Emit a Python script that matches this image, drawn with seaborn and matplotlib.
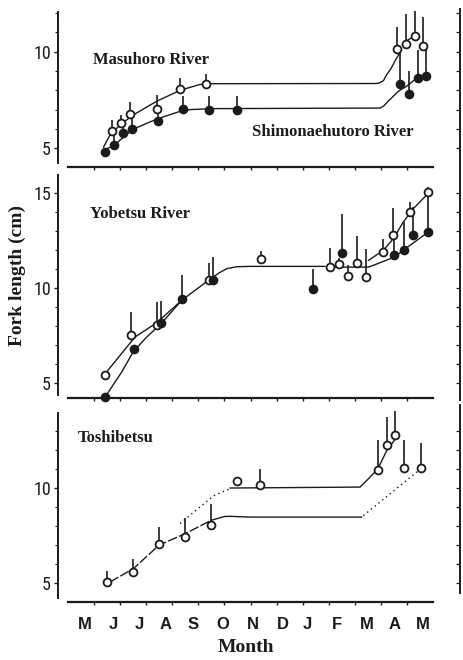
import numpy as np
import pandas as pd
import matplotlib
matplotlib.use("Agg")
import matplotlib.pyplot as plt
from matplotlib import font_manager
from matplotlib.ticker import FixedLocator
import seaborn as sns

# ---------------------------------------------------------------- data
# x positions are in months along the shared season axis (tick 0..12)
month_ticks = list(range(13))
month_labels = ["M", "J", "J", "A", "S", "O", "N", "D", "J", "F", "M", "A", "M"]
month_label_pos = [-0.37, 0.74, 1.74, 2.75, 3.81, 4.93, 6.11, 7.26, 8.16, 9.30, 10.46, 11.54, 12.60]

# Masuhoro River (open circles): mean fork length and upper deviation
masuhoro_x = [0.68, 1.02, 1.36, 2.40, 3.30, 4.30, 11.63, 11.96, 12.31, 12.63]
masuhoro_fl = [5.88, 6.30, 6.77, 7.03, 8.07, 8.35, 10.16, 10.42, 10.81, 10.29]
masuhoro_sd = [0.59, 0.43, 0.61, 0.75, 0.58, 0.47, 1.09, 1.52, 1.30, 1.48]

# Shimonaehutoro River (filled circles)
shimo_x = [0.42, 0.77, 1.12, 1.45, 2.46, 3.40, 4.41, 5.47, 11.73, 12.09, 12.41, 12.72]
shimo_fl = [4.82, 5.17, 5.78, 6.00, 6.42, 7.05, 6.99, 6.99, 8.30, 7.81, 8.65, 8.73]
shimo_sd = [0.15, 0.52, 0.43, 0.73, 0.61, 0.67, 0.70, 0.73, 1.80, 1.18, 1.45, 1.47]

# growth curves, Masuhoro / Shimonaehutoro
masuhoro_curve_x = [0.36, 0.61, 1.00, 1.51, 2.40, 3.30, 4.06, 4.45, 10.80, 10.95, 11.10, 11.22, 11.40, 11.54, 11.73]
masuhoro_curve_fl = [5.05, 5.69, 6.21, 6.73, 7.43, 8.00, 8.30, 8.34, 8.35, 8.38, 8.50, 8.80, 9.15, 9.51, 9.95]
masuhoro_link_x = [11.86, 12.31]
masuhoro_link_fl = [10.47, 10.81]
shimo_curve_x = [0.36, 0.74, 1.12, 1.51, 2.40, 3.30, 3.68, 4.50, 10.97, 11.12, 11.28, 11.67, 11.99, 12.31, 12.76]
shimo_curve_fl = [4.90, 5.12, 5.57, 5.99, 6.51, 6.91, 7.00, 7.05, 7.08, 7.20, 7.43, 7.95, 8.21, 8.56, 8.82]

# Yobetsu River, two groups (open / filled)
yob_open_x = [0.40, 1.41, 2.40, 4.39, 6.39, 9.05, 9.40, 9.73, 10.07, 10.42, 11.09, 11.48, 12.12, 12.80]
yob_open_fl = [5.40, 7.51, 8.07, 10.44, 11.51, 11.10, 11.28, 10.61, 11.30, 10.58, 11.89, 12.80, 13.98, 15.08]
yob_open_sd = [0.15, 1.23, 1.19, 0.88, 0.42, 1.00, 0.30, 0.62, 1.42, 1.49, 0.67, 1.40, 0.54, 0.23]
yob_fill_x = [0.40, 1.55, 2.57, 3.37, 4.58, 8.38, 9.50, 11.52, 11.89, 12.22, 12.82]
yob_fill_fl = [4.26, 6.80, 8.16, 9.44, 10.44, 9.96, 11.84, 11.72, 12.00, 12.79, 12.97]
yob_fill_sd = [0.20, 0.00, 1.14, 1.22, 1.19, 1.06, 2.07, 0.90, 1.47, 1.47, 1.82]

yob_open_curve_x = [0.48, 1.57, 2.40, 3.36, 4.38, 4.80, 5.09, 5.47, 6.00, 8.86]
yob_open_curve_fl = [5.58, 7.42, 8.17, 9.35, 10.40, 10.80, 11.02, 11.12, 11.14, 11.14]
yob_fill_curve_x = [0.51, 1.06, 1.51, 2.02, 2.57, 3.36]
yob_fill_curve_fl = [4.44, 5.58, 6.66, 7.42, 8.12, 9.35]
yob_mid_x = [9.20, 10.52, 10.78, 11.52, 11.89, 12.82]
yob_mid_fl = [11.10, 11.10, 11.23, 11.63, 12.02, 12.95]
yob_spring_x = [10.52, 11.09, 11.48, 11.86, 12.24, 12.80]
yob_spring_fl = [11.45, 11.98, 12.60, 13.47, 14.17, 14.96]

# Toshibetsu
tosh_x = [0.51, 1.51, 2.50, 3.50, 4.49, 5.49, 6.37, 10.88, 11.23, 11.55, 11.89, 12.54]
tosh_fl = [5.05, 5.58, 7.04, 7.42, 8.04, 10.35, 10.14, 10.97, 12.28, 12.81, 11.05, 11.05]
tosh_sd = [0.58, 0.70, 0.91, 1.02, 1.10, 0.00, 0.88, 1.54, 1.46, 1.25, 1.46, 1.32]

tosh_early_x = [0.61, 1.51, 2.50, 3.50, 4.49]
tosh_early_fl = [5.05, 5.76, 7.00, 7.60, 8.30]
tosh_low_x = [4.49, 5.00, 5.21, 6.00, 10.27]
tosh_low_fl = [8.30, 8.50, 8.51, 8.47, 8.47]
tosh_low_rise_x = [10.33, 12.69]
tosh_low_rise_fl = [8.55, 11.19]
tosh_up_dot_x = [3.30, 4.06, 4.60, 5.21]
tosh_up_dot_fl = [8.13, 9.00, 9.60, 9.97]
tosh_up_x = [5.21, 10.20, 10.46, 10.88, 11.23, 11.61]
tosh_up_fl = [10.00, 10.05, 10.40, 11.00, 11.98, 12.68]

# ---------------------------------------------------------------- style
sns.set_style("ticks")
installed = {f.name for f in font_manager.fontManager.ttflist}
NARROW = next((n for n in ("Liberation Sans Narrow", "Roboto Condensed",
                           "Open Sans Condensed", "Liberation Sans")
               if n in installed), "DejaVu Sans")
plt.rcParams["font.family"] = ["Liberation Sans", "DejaVu Sans"]
SERIF = ["Liberation Serif", "DejaVu Serif"]
INK = "#1b1b1b"

fig = plt.figure(figsize=(4.63, 6.6), dpi=100)
W, H = 463.0, 660.0


def panel(top, bottom):
    return fig.add_axes([68 / W, 1 - bottom / H, 365 / W, (bottom - top) / H])


def unit_ticks(lo, hi):
    return list(range(int(np.ceil(lo)), int(np.floor(hi)) + 1))


def style_panel(ax, ylim, majors, spine_lo, right_bounds, show_months):
    ax.set_xlim(-1, 13)
    ax.set_ylim(*ylim)
    for s in ("top", "right"):
        ax.spines[s].set_visible(False)
    ax.spines["left"].set_position(("outward", 7.2))
    ax.spines["left"].set_bounds(spine_lo, ylim[1])
    ax.spines["left"].set_linewidth(1.4)
    ax.spines["bottom"].set_linewidth(1.6)
    ax.spines["left"].set_color(INK)
    ax.spines["bottom"].set_color(INK)

    ax.yaxis.set_major_locator(FixedLocator(majors))
    ax.yaxis.set_minor_locator(FixedLocator(unit_ticks(spine_lo, ylim[1])))
    ax.tick_params(axis="y", which="major", length=3, width=1, pad=2,
                   labelsize=13, labelfontfamily=NARROW, colors=INK)
    ax.tick_params(axis="y", which="minor", length=2, width=0.8, colors=INK)

    ax.xaxis.set_major_locator(FixedLocator(month_label_pos))
    ax.xaxis.set_minor_locator(FixedLocator(month_ticks))
    ax.set_xticklabels(month_labels)
    ax.tick_params(axis="x", which="major", length=0, pad=11,
                   labelsize=12, labelbottom=show_months, colors=INK)
    for lab in ax.get_xticklabels():
        lab.set_fontweight("bold")
    ax.tick_params(axis="x", which="minor", length=2.5, width=1, colors=INK)

    # right-hand scale line with inward ticks
    tw = ax.twinx()
    tw.set_ylim(*ylim)
    for s in ("top", "left", "bottom"):
        tw.spines[s].set_visible(False)
    tw.spines["right"].set_position(("outward", 19.4))
    tw.spines["right"].set_bounds(*right_bounds)
    tw.spines["right"].set_linewidth(1.4)
    tw.spines["right"].set_color(INK)
    tw.yaxis.set_major_locator(FixedLocator(unit_ticks(max(right_bounds[0], ylim[0] + 0.2),
                                                       min(right_bounds[1], ylim[1]))))
    tw.tick_params(axis="y", direction="in", length=3, width=0.9,
                   labelright=False, colors=INK)
    return tw


def draw_points(ax, x, y, sd, filled):
    y = np.asarray(y, dtype=float)
    top = y + np.asarray(sd, dtype=float)
    ax.vlines(x, y, top, color=INK, lw=1.2, zorder=3, clip_on=False)
    df = pd.DataFrame({"month": x, "fl": y})
    sns.scatterplot(data=df, x="month", y="fl", ax=ax, s=32, marker="o",
                    color=INK if filled else "white", edgecolor=INK,
                    linewidth=1.3, zorder=4, clip_on=False, legend=False)


def draw_curve(ax, x, y, ls="-"):
    df = pd.DataFrame({"month": x, "fl": y})
    sns.lineplot(data=df, x="month", y="fl", ax=ax, estimator=None, sort=False,
                 color=INK, lw=1.0, linestyle=ls, zorder=2)


lab_kw = dict(fontsize=12, fontweight="bold", family=SERIF, color=INK,
              ha="left", va="center")

# ---------------------------------------------------------------- panel 1
ax1 = panel(12, 167)
style_panel(ax1, (4.03, 12.05), [5, 10], 4.25, (3.9, 12.2), False)
draw_curve(ax1, masuhoro_curve_x, masuhoro_curve_fl)
draw_curve(ax1, masuhoro_link_x, masuhoro_link_fl)
draw_curve(ax1, shimo_curve_x, shimo_curve_fl)
draw_points(ax1, masuhoro_x, masuhoro_fl, masuhoro_sd, False)
draw_points(ax1, shimo_x, shimo_fl, shimo_sd, True)
ax1.text(-0.04, 9.55, "Masuhoro River", **lab_kw)
ax1.text(6.06, 5.85, "Shimonaehutoro River", **lab_kw)

# ---------------------------------------------------------------- panel 2
ax2 = panel(175, 398)
style_panel(ax2, (4.21, 15.95), [5, 10, 15], 4.37, (4.1, 16.1), False)
draw_curve(ax2, yob_open_curve_x, yob_open_curve_fl)
draw_curve(ax2, yob_fill_curve_x, yob_fill_curve_fl)
draw_curve(ax2, yob_mid_x, yob_mid_fl)
draw_curve(ax2, yob_spring_x, yob_spring_fl)
draw_points(ax2, yob_open_x, yob_open_fl, yob_open_sd, False)
draw_points(ax2, yob_fill_x, yob_fill_fl, yob_fill_sd, True)
ax2.text(-0.15, 13.91, "Yobetsu River", **lab_kw)

# ---------------------------------------------------------------- panel 3
ax3 = panel(413, 602)
style_panel(ax3, (4.0, 13.95), [5, 10], 4.2, (4.5, 14.35), True)
draw_curve(ax3, tosh_early_x, tosh_early_fl, ls=(0, (7, 1.6)))
draw_curve(ax3, tosh_low_x, tosh_low_fl)
draw_curve(ax3, tosh_low_rise_x, tosh_low_rise_fl, ls=(0, (1, 2.5)))
draw_curve(ax3, tosh_up_dot_x, tosh_up_dot_fl, ls=(0, (1, 2.5)))
draw_curve(ax3, tosh_up_x, tosh_up_fl)
draw_points(ax3, tosh_x, tosh_fl, tosh_sd, False)
ax3.text(-0.61, 12.62, "Toshibetsu", **lab_kw)

for ax in (ax1, ax2, ax3):
    ax.set_xlabel("")
    ax.set_ylabel("")

fig.text(246 / W, 1 - 647 / H, "Month", ha="center", va="center",
         fontsize=14, fontweight="bold", family=SERIF, color=INK)
fig.text(17 / W, 1 - 276 / H, "Fork length (cm)", ha="center", va="center",
         rotation=90, fontsize=14, fontweight="bold", family=SERIF, color=INK)

fig.savefig("out.png", dpi=100)
